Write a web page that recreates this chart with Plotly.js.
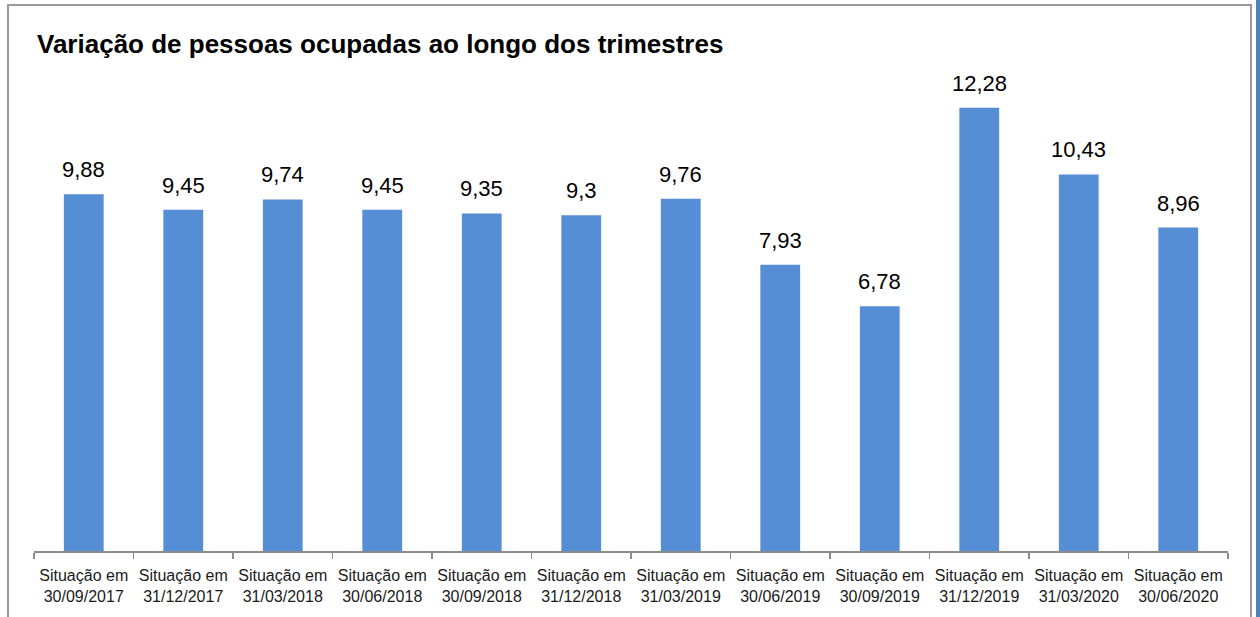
<!DOCTYPE html>
<html>
<head>
<meta charset="utf-8">
<script src="https://cdn.plot.ly/plotly-3.0.1.min.js"></script>
<style>
  html, body { margin: 0; padding: 0; background: #fff; }
  #wrap { position: relative; width: 1260px; height: 617px; overflow: hidden; }
  #chart { position: absolute; left: 0; top: 0; width: 1260px; height: 617px; }
  #frame { position: absolute; left: 7px; top: 4px; width: 1245px; height: 640px;
           border: 2px solid #9a9a9a; box-sizing: border-box; pointer-events: none; }
  #strip { position: absolute; left: 1256px; top: 0; width: 4px; height: 617px; background: #4f81bd; }
</style>
</head>
<body>
<div id="wrap">
  <div id="chart"></div>
  <div id="frame"></div>
  <div id="strip"></div>
</div>
<script>
const categories = [
  "Situação em<br>30/09/2017", "Situação em<br>31/12/2017", "Situação em<br>31/03/2018",
  "Situação em<br>30/06/2018", "Situação em<br>30/09/2018", "Situação em<br>31/12/2018",
  "Situação em<br>31/03/2019", "Situação em<br>30/06/2019", "Situação em<br>30/09/2019",
  "Situação em<br>31/12/2019", "Situação em<br>31/03/2020", "Situação em<br>30/06/2020"
];
const values = [9.88, 9.45, 9.74, 9.45, 9.35, 9.3, 9.76, 7.93, 6.78, 12.28, 10.43, 8.96];
const titleText = "Variação de pessoas ocupadas ao longo dos trimestres";

const FONT = "Liberation Sans, Arial, sans-serif";

const trace = {
  type: "bar",
  x: categories,
  y: values,
  marker: { color: "#558ed5" },
  hoverinfo: "none"
};

const fmt = v => String(v).replace(".", ",");
const annotations = categories.map((c, i) => ({
  x: c,
  y: values[i],
  xref: "x",
  yref: "y",
  text: fmt(values[i]),
  showarrow: false,
  yanchor: "bottom",
  xanchor: "center",
  yshift: 10,
  font: { family: FONT, size: 22, color: "#000" }
}));

const layout = {
  width: 1260,
  height: 617,
  paper_bgcolor: "rgba(0,0,0,0)",
  plot_bgcolor: "rgba(0,0,0,0)",
  margin: { l: 34, r: 32, t: 62, b: 66 },
  bargap: 0.6,
  showlegend: false,
  annotations: annotations,
  title: {
    text: "<b>" + titleText + "</b>",
    font: { family: FONT, size: 26, color: "#000" },
    xref: "container", yref: "container",
    x: 37 / 1260, xanchor: "left",
    y: 1 - 44 / 617, yanchor: "middle"
  },
  xaxis: {
    type: "category",
    showline: true,
    linecolor: "#8c8c8c",
    linewidth: 1.5,
    ticks: "outside",
    tickson: "boundaries",
    ticklen: 6,
    tickcolor: "#8c8c8c",
    tickwidth: 1.5,
    ticklabelstandoff: 9,
    tickfont: { family: FONT, size: 16, color: "#1a1a1a" },
    showgrid: false,
    zeroline: false,
    fixedrange: true
  },
  yaxis: {
    range: [0, 13.546],
    visible: false,
    showgrid: false,
    zeroline: false,
    fixedrange: true
  }
};

Plotly.newPlot("chart", [trace], layout, { displayModeBar: false, staticPlot: true });
</script>
</body>
</html>
